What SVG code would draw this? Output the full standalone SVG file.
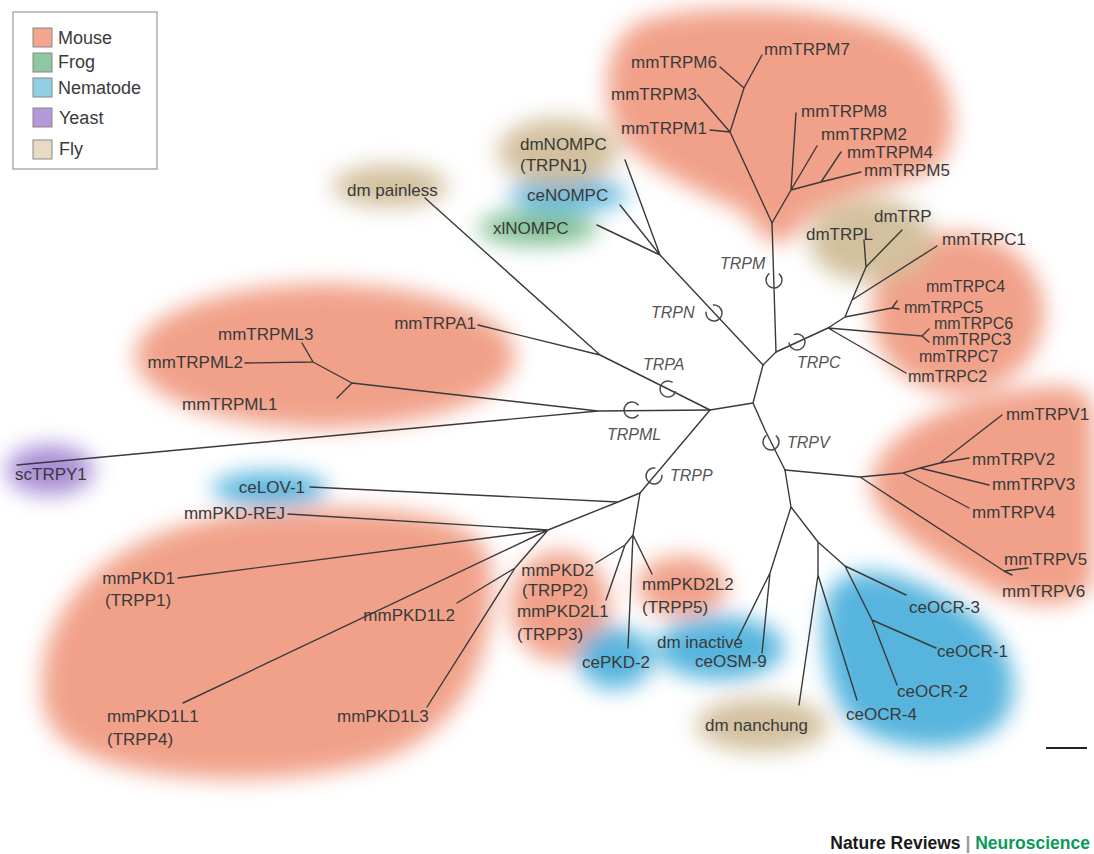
<svg xmlns="http://www.w3.org/2000/svg" width="1094" height="854" viewBox="0 0 1094 854">
<defs>
<filter id="soft" x="-50%" y="-50%" width="200%" height="200%"><feGaussianBlur stdDeviation="11"/></filter>
<style>
.mouse{fill:#f09a80}
.nema{fill:#4aafdb}
.fly{fill:#cfbb96}
.frog{fill:#72b888}
.yeast{fill:#a084d2}
.br{fill:none;stroke:#3a3a3a;stroke-width:1.4;stroke-linejoin:round;stroke-linecap:round}
.ring{fill:none;stroke:#4a4a4a;stroke-width:1.5;stroke-dasharray:40 10.3}
.lbl{font-family:"Liberation Sans",Arial,sans-serif;font-size:17px;fill:#3a3a3a}
.sm{font-size:16px}
.cl{font-family:"Liberation Sans",Arial,sans-serif;font-size:16px;font-style:italic;fill:#555}
.leg{font-family:"Liberation Sans",Arial,sans-serif;font-size:18px;fill:#3a3a3a}
.sw{stroke:#888;stroke-width:1}
</style>
</defs>
<rect width="1094" height="854" fill="#fff"/>

<g id="blobs" filter="url(#soft)" opacity="0.92">
<path class="mouse" d="M640,22 C700,0 860,2 918,48 C962,88 962,150 930,172 C880,192 822,192 792,238 C775,250 760,238 746,214 C700,190 640,170 616,130 C600,90 604,42 640,22 Z"/>
<ellipse class="mouse" cx="958" cy="313" rx="86" ry="80"/>
<ellipse class="fly" cx="871" cy="240" rx="62" ry="42"/>
<ellipse class="mouse" cx="325" cy="356" rx="190" ry="72"/>
<ellipse class="yeast" cx="50" cy="470" rx="44" ry="25"/>
<ellipse class="nema" cx="270" cy="489" rx="58" ry="17"/>
<path class="mouse" d="M42,690 C40,600 120,522 260,512 C380,503 478,510 490,560 C500,640 470,730 380,760 C280,790 140,782 82,752 C52,736 42,715 42,690 Z"/>
<ellipse class="mouse" cx="560" cy="606" rx="50" ry="55"/>
<ellipse class="mouse" cx="682" cy="586" rx="45" ry="30"/>
<ellipse class="nema" cx="615" cy="658" rx="38" ry="31"/>
<ellipse class="nema" cx="720" cy="648" rx="64" ry="32"/>
<ellipse class="fly" cx="762" cy="725" rx="66" ry="27"/>
<path class="nema" d="M830,590 C850,560 900,570 950,600 C1010,630 1030,690 1000,725 C960,760 880,750 850,720 C825,690 815,620 830,590 Z"/>
<path class="mouse" d="M870,482 C880,432 950,397 1040,387 C1090,382 1094,400 1094,420 L1094,582 C1080,610 1030,610 990,590 C940,562 870,522 870,482 Z"/>
<ellipse class="frog" cx="538" cy="228" rx="60" ry="17"/>
<ellipse class="nema" cx="568" cy="195" rx="60" ry="15"/>
<ellipse class="fly" cx="558" cy="152" rx="60" ry="34"/>
<ellipse class="fly" cx="390" cy="186" rx="58" ry="21"/>
</g>

<g id="legend">
<rect x="13" y="12" width="144" height="157" fill="#fff" stroke="#9a9a9a" stroke-width="1.2"/>
<rect class="sw" x="33" y="28" width="19" height="19" fill="#f5a58b"/>
<rect class="sw" x="33" y="53" width="19" height="19" fill="#8dc8a0"/>
<rect class="sw" x="33" y="78" width="19" height="19" fill="#8fd0e3"/>
<rect class="sw" x="33" y="108" width="19" height="19" fill="#b49ad9"/>
<rect class="sw" x="33" y="140" width="19" height="19" fill="#e9dbc3"/>
<text class="leg" x="58" y="44">Mouse</text>
<text class="leg" x="58" y="68">Frog</text>
<text class="leg" x="58" y="94">Nematode</text>
<text class="leg" x="59" y="124">Yeast</text>
<text class="leg" x="59" y="155">Fly</text>
</g>

<g id="connectors">
<path class="br" d="M763,365 L660,255 M660,255 L625,160 M660,255 L620,205 M660,255 L597,225"/>
<path class="br" d="M763,365 L776,352 L772,223 L730,132 L744,88 L720,67 M744,88 L762,55 M730,132 L698,95 M730,132 L710,130"/>
<path class="br" d="M772,223 L791,190 L796,113 M791,190 L817,146 M791,190 L821,182 L841,152 M821,182 L861,172"/>
<path class="br" d="M776,352 L828,328 L845,317 L852,300 L866,267 L864,240 M866,267 L902,230 M852,300 L937,246 M845,317 L892,308 M892,308 L897,301 M892,308 L899,309 M828,328 L922,336 M922,336 L929,329 M922,336 L929,342 M828,328 L906,373"/>
<path class="br" d="M763,365 L753,403 L710,410 M753,403 L765,430 L785,470"/>
<path class="br" d="M710,410 L600,355 L425,198 M600,355 L478,325"/>
<path class="br" d="M710,410 L598,411 L17,465 M598,411 L352,383 L337,398 M352,383 L313,362 L245,363 M313,362 L302,343"/>
<path class="br" d="M710,410 L640,493 L618,502 L310,487 M618,502 L548,530 L288,514 M548,530 L178,578 M548,530 L183,703 M548,530 L515,568 L457,603 M515,568 L427,707"/>
<path class="br" d="M640,493 L633,535 L625,545 L596,563 M625,545 L606,600 M633,535 L628,648 M633,535 L652,574"/>
<path class="br" d="M785,470 L860,477 L903,473 L969,508 M903,473 L920,468 L989,485 M920,468 L940,463 L969,458 M940,463 L1002,415 M860,477 L1004,571 M1028,568 L1004,571 L1012,575"/>
<path class="br" d="M785,470 L791,507 L770,573 L737,640 M770,573 L762,653 M791,507 L818,542 L818,575 L799,705 M818,575 L857,700 M818,542 L845,566 L906,595 M845,566 L872,620 L897,685 M872,620 L936,648"/>
<circle class="ring" cx="774" cy="280" r="8" transform="rotate(-53 774 280)"/>
<circle class="ring" cx="714" cy="313" r="8" transform="rotate(-98 714 313)"/>
<circle class="ring" cx="797" cy="342" r="8" transform="rotate(-113 797 342)"/>
<circle class="ring" cx="668" cy="389" r="8" transform="rotate(17 668 389)"/>
<circle class="ring" cx="632" cy="410" r="8" transform="rotate(37 632 410)"/>
<circle class="ring" cx="654" cy="476" r="8" transform="rotate(-8 654 476)"/>
<circle class="ring" cx="771" cy="442" r="8" transform="rotate(-53 771 442)"/>
<line x1="1046" y1="748" x2="1087" y2="748" stroke="#222" stroke-width="2"/>
</g>

<g id="clades">
<text class="cl" x="720" y="269">TRPM</text>
<text class="cl" x="651" y="318">TRPN</text>
<text class="cl" x="643" y="370">TRPA</text>
<text class="cl" x="607" y="440">TRPML</text>
<text class="cl" x="670" y="481">TRPP</text>
<text class="cl" x="797" y="368">TRPC</text>
<text class="cl" x="787" y="448">TRPV</text>
</g>

<g id="labels">
<text class="lbl" x="347" y="196">dm painless</text>
<text class="lbl" x="520" y="150">dmNOMPC</text>
<text class="lbl" x="520" y="171">(TRPN1)</text>
<text class="lbl" x="527" y="201">ceNOMPC</text>
<text class="lbl" x="493" y="234">xlNOMPC</text>
<text class="lbl" x="717" y="68" text-anchor="end">mmTRPM6</text>
<text class="lbl" x="764" y="55">mmTRPM7</text>
<text class="lbl" x="697" y="100" text-anchor="end">mmTRPM3</text>
<text class="lbl" x="707" y="134" text-anchor="end">mmTRPM1</text>
<text class="lbl" x="801" y="117">mmTRPM8</text>
<text class="lbl" x="821" y="140">mmTRPM2</text>
<text class="lbl" x="847" y="158">mmTRPM4</text>
<text class="lbl" x="864" y="176">mmTRPM5</text>
<text class="lbl" x="806" y="240">dmTRPL</text>
<text class="lbl" x="874" y="222">dmTRP</text>
<text class="lbl" x="942" y="245">mmTRPC1</text>
<text class="lbl sm" x="926" y="292">mmTRPC4</text>
<text class="lbl sm" x="904" y="313">mmTRPC5</text>
<text class="lbl sm" x="934" y="329">mmTRPC6</text>
<text class="lbl sm" x="932" y="345">mmTRPC3</text>
<text class="lbl sm" x="919" y="362">mmTRPC7</text>
<text class="lbl sm" x="908" y="382">mmTRPC2</text>
<text class="lbl" x="1006" y="420">mmTRPV1</text>
<text class="lbl" x="972" y="465">mmTRPV2</text>
<text class="lbl" x="992" y="490">mmTRPV3</text>
<text class="lbl" x="972" y="518">mmTRPV4</text>
<text class="lbl" x="1004" y="565">mmTRPV5</text>
<text class="lbl" x="1002" y="597">mmTRPV6</text>
<text class="lbl" x="909" y="613">ceOCR-3</text>
<text class="lbl" x="937" y="657">ceOCR-1</text>
<text class="lbl" x="897" y="697">ceOCR-2</text>
<text class="lbl" x="846" y="720">ceOCR-4</text>
<text class="lbl" x="705" y="731">dm nanchung</text>
<text class="lbl" x="657" y="648">dm inactive</text>
<text class="lbl" x="695" y="667">ceOSM-9</text>
<text class="lbl" x="582" y="668">cePKD-2</text>
<text class="lbl" x="642" y="590">mmPKD2L2</text>
<text class="lbl" x="642" y="613">(TRPP5)</text>
<text class="lbl" x="594" y="576" text-anchor="end">mmPKD2</text>
<text class="lbl" x="522" y="596">(TRPP2)</text>
<text class="lbl" x="517" y="617">mmPKD2L1</text>
<text class="lbl" x="517" y="640">(TRPP3)</text>
<text class="lbl" x="455" y="621" text-anchor="end">mmPKD1L2</text>
<text class="lbl" x="337" y="722">mmPKD1L3</text>
<text class="lbl" x="175" y="584" text-anchor="end">mmPKD1</text>
<text class="lbl" x="105" y="606">(TRPP1)</text>
<text class="lbl" x="107" y="722">mmPKD1L1</text>
<text class="lbl" x="107" y="745">(TRPP4)</text>
<text class="lbl" x="285" y="519" text-anchor="end">mmPKD-REJ</text>
<text class="lbl" x="305" y="493" text-anchor="end">ceLOV-1</text>
<text class="lbl" x="15" y="480">scTRPY1</text>
<text class="lbl" x="182" y="410">mmTRPML1</text>
<text class="lbl" x="243" y="368" text-anchor="end">mmTRPML2</text>
<text class="lbl" x="218" y="340">mmTRPML3</text>
<text class="lbl" x="476" y="329" text-anchor="end">mmTRPA1</text>
</g>

<g id="credit">
<text x="1090" y="849" text-anchor="end" font-family="Liberation Sans, Arial, sans-serif" font-size="17.5" font-weight="bold"><tspan fill="#1a1a1a">Nature Reviews </tspan><tspan fill="#999">|</tspan><tspan fill="#0b9a5a"> Neuroscience</tspan></text>
</g>
</svg>
